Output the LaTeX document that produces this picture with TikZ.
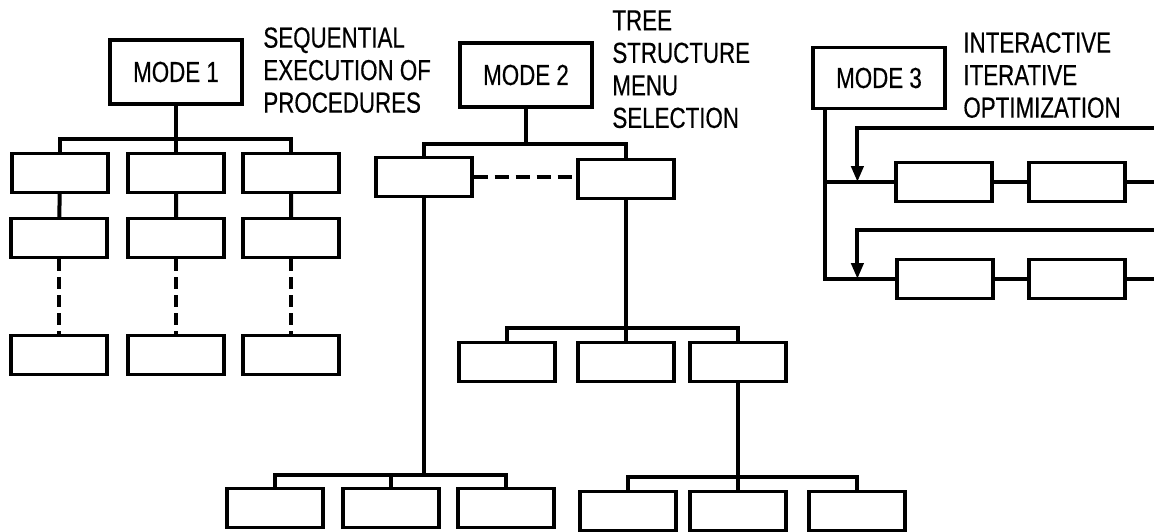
\documentclass[tikz,border=0pt]{standalone}
\usepackage{fontspec}
\setmainfont[FakeStretch=0.77, FakeBold=0.4]{Liberation Sans}
\usetikzlibrary{arrows.meta,positioning}

\tikzset{
  modebox/.style={draw, line width=1.6pt, minimum width=66pt, minimum height=32pt,
    inner sep=0pt, font=\fontsize{14.5}{16}\selectfont},
  smallbox/.style={draw, line width=1.6pt, minimum width=48pt, minimum height=19.5pt,
    inner sep=0pt},
  caption/.style={anchor=north west, align=left, inner sep=0pt,
    font=\fontsize{14.5}{16.25}\selectfont},
  link/.style={line width=2pt},
  dashlink/.style={line width=2pt, dash pattern=on 6pt off 3pt},
  back/.style={line width=2pt, -{Triangle[width=6pt,length=8pt]}}
}

\begin{document}
\begin{tikzpicture}[x=0.5pt, y=-0.5pt]
\useasboundingbox (0,0) rectangle (1154,531);

% mode 1
\node (mode1) [modebox] at (176,72) {MODE 1};
\node (seqText) [caption] at (263,27) {SEQUENTIAL\\EXECUTION OF\\PROCEDURES};
\node (s11) [smallbox] at (60,173) {};
\node (s12) [smallbox] at (176,173) {};
\node (s13) [smallbox] at (291,173) {};
\node (s21) [smallbox] at (59,238) {};
\node (s22) [smallbox] at (176,238) {};
\node (s23) [smallbox] at (291,238) {};
\node (s31) [smallbox] at (59,355) {};
\node (s32) [smallbox] at (176,355) {};
\node (s33) [smallbox] at (291,355) {};

\draw[link] (mode1.south) -- ++(0,33) coordinate (bar1);
\draw[link] (s11.north) |- (bar1) -| (s13.north);
\draw[link] (bar1) -- (s12.north);
\draw[link] (s11) -- (s21) (s12) -- (s22) (s13) -- (s23);
\draw[dashlink] (s21) -- (s31) (s22) -- (s32) (s23) -- (s33);

% mode 2
\node (mode2) [modebox] at (526,75) {MODE 2};
\node (treeText) [caption] at (612,10) {TREE\\STRUCTURE\\MENU\\SELECTION};
\node (menuA) [smallbox] at (424,177) {};
\node (menuB) [smallbox] at (626,179) {};
\node (midA) [smallbox] at (507,362) {};
\node (midB) [smallbox] at (626,362) {};
\node (midC) [smallbox] at (738,362) {};
\node (leafA1) [smallbox] at (275,508) {};
\node (leafA2) [smallbox] at (391,508) {};
\node (leafA3) [smallbox] at (506,508) {};
\node (leafB1) [smallbox] at (628,511) {};
\node (leafB2) [smallbox] at (738,511) {};
\node (leafB3) [smallbox] at (857,511) {};

\draw[link] (mode2.south) -- ++(0,35) coordinate (bar2);
\draw[link] (menuA.north) |- (bar2) -| (menuB.north);
\draw[dashlink, dash pattern=on 7pt off 3.5pt] (menuA.east) -- (menuA.east -| menuB.west);
\draw[link] (menuB.south) -- ++(0,127.5) coordinate (bar3);
\draw[link] (bar3) -- (midB.north);
\draw[link] (midA.north) |- (bar3) -| (midC.north);
\draw[link] (menuA.south) -- ++(0,276.5) coordinate (bar4);
\draw[link] (leafA1.north) |- (bar4) -| (leafA3.north);
\draw[link] (leafA2.north) -- (leafA2.north |- bar4);
\draw[link] (midC.south) -- ++(0,93.5) coordinate (bar5);
\draw[link] (leafB1.north) |- (bar5) -| (leafB3.north);
\draw[link] (bar5) -- (leafB2.north);

% mode 3
\node (mode3) [modebox, minimum height=30.5pt] at (879,78) {MODE 3};
\node (optText) [caption] at (963,32) {INTERACTIVE\\ITERATIVE\\OPTIMIZATION};
\coordinate (spine) at ([xshift=7pt]mode3.south west);
\node (optA1) [smallbox] at (944,182) {};
\node (optA2) [smallbox] at (1077,182) {};
\node (optB1) [smallbox] at (945,279) {};
\node (optB2) [smallbox] at (1077,279) {};
\coordinate (outA) at (1158,182);
\coordinate (outB) at (1158,279);
\coordinate (backA) at (1158,128);
\coordinate (backB) at (1158,230);

\draw[link] (spine) |- (optB1.west);
\draw[link] (spine |- optA1.west) -- (optA1.west);
\draw[link] (optA1) -- (optA2) (optB1) -- (optB2);
\draw[link] (optA2.east) -- (outA);
\draw[link] (optB2.east) -- (outB);
\draw[back] (backA) -| ([xshift=-18.5pt]optA1.west);
\draw[back] (backB) -| ([xshift=-19pt]optB1.west);
\end{tikzpicture}
\end{document}
